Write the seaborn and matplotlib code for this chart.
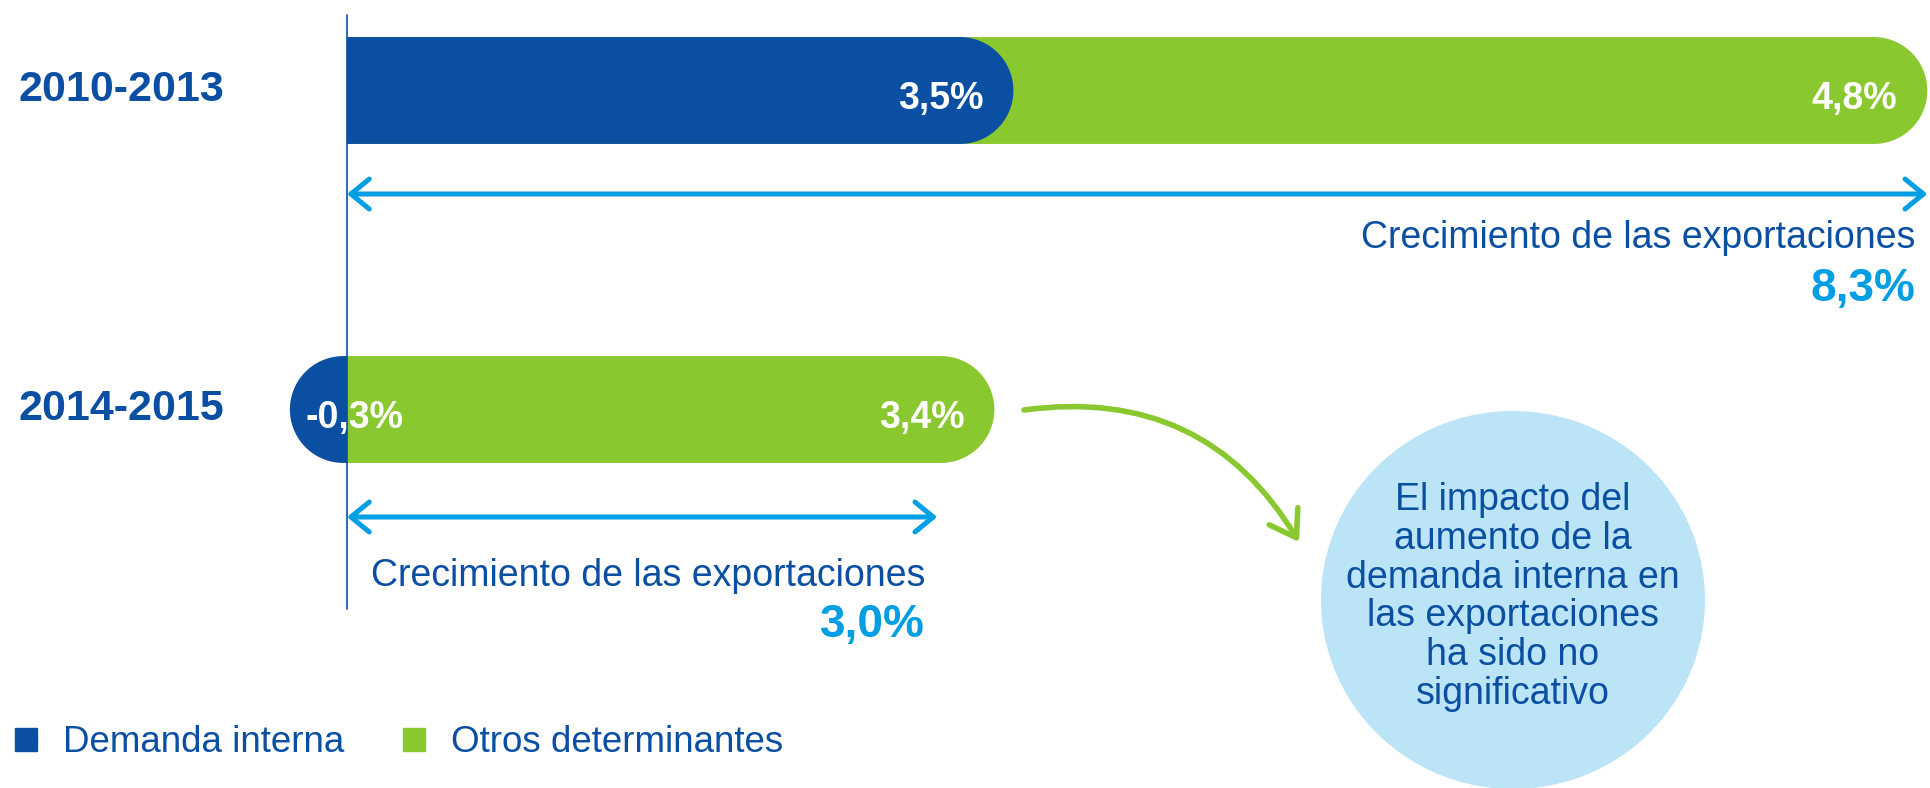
import numpy as np
import pandas as pd
import seaborn as sns
import matplotlib.pyplot as plt
from matplotlib.patches import Polygon, Ellipse, Patch
from matplotlib.transforms import blended_transform_factory

# data
periodos = ['2010-2013', '2014-2015']
demanda_interna = [3.5, -0.3]
otros_determinantes = [4.8, 3.4]
crecimiento_exportaciones = [8.3, 3.0]
etiqueta_crecimiento = 'Crecimiento de las exportaciones'
nota = ('El impacto del\naumento de la\ndemanda interna en\n'
        'las exportaciones\nha sido no\nsignificativo')

AZUL = '#0A4FA2'
VERDE = '#8AC830'
CELESTE = '#009EE2'
CELESTE_CLARO = '#BBE4F7'

sns.set_style('white')
plt.rcParams['font.family'] = ['Liberation Sans', 'DejaVu Sans']

W, H = 1930, 788
fig = plt.figure(figsize=(W / 100, H / 100), dpi=100)
ax = fig.add_axes([0, 0, 1, 1])

df = pd.DataFrame({'periodo': periodos,
                   'demanda': demanda_interna,
                   'otros': otros_determinantes})
# green bar sits under the blue one, from zero to the end of the stack
df['fin_otros'] = df['demanda'].clip(lower=0) + df['otros']

ancho = 0.335
sns.barplot(data=df, x='fin_otros', y='periodo', orient='h', color=VERDE,
            width=ancho, errorbar=None, saturation=1, ax=ax)
sns.barplot(data=df, x='demanda', y='periodo', orient='h', color=AZUL,
            width=ancho, errorbar=None, saturation=1, ax=ax)

# pixel layout: zero at x=347, 190.4 px per point, rows 319 px apart
x0_px, esc, fila_px, y0_px = 347, 190.4, 319, 90.5
ax.set_xlim(-x0_px / esc, (W - x0_px) / esc)
ax.set_ylim((H - y0_px) / fila_px, -y0_px / fila_px)
ax.axis('off')


def redondear(rect, rx):
    x, w = rect.get_x(), rect.get_width()
    y, h = rect.get_y(), rect.get_height()
    a, b = min(x, x + w), max(x, x + w)
    rx = min(rx, b - a)
    t = np.linspace(-np.pi / 2, np.pi / 2, 80)
    yc = y + h / 2
    if w >= 0:
        arco = np.column_stack([b - rx + rx * np.cos(t), yc + h / 2 * np.sin(t)])
        pts = np.vstack([[a, y], arco, [a, y + h]])
    else:
        arco = np.column_stack([a + rx - rx * np.cos(t), yc + h / 2 * np.sin(t)])
        pts = np.vstack([[b, y], arco, [b, y + h]])
    return Polygon(pts, closed=True, facecolor=rect.get_facecolor(),
                   edgecolor='none', zorder=rect.get_zorder())


rx = (ancho * fila_px / 2) / esc
for p in list(ax.patches):
    nuevo = redondear(p, rx)
    p.remove()
    ax.add_patch(nuevo)

ax.axvline(0, ymin=1 - 609 / H, ymax=1 - 15 / H, color=AZUL, lw=1.2, zorder=5)


def fmt(v):
    return f'{v:.1f}'.replace('.', ',') + '%'


mezcla = blended_transform_factory(ax.transAxes, ax.transData)
flecha_y = [194, 517]
texto_y = [238, 576]
total_y = [289, 625]
etiqueta = dict(textcoords='offset pixels', va='center', fontsize=27,
                fontweight='bold', color='white', zorder=6)

for i, periodo in enumerate(periodos):
    d, o = demanda_interna[i], otros_determinantes[i]
    ax.text(18 / W, i, periodo, transform=mezcla, ha='left', va='center',
            fontsize=31, fontweight='bold', color=AZUL)
    if d >= 0:
        ax.annotate(fmt(d), (d, i), xytext=(-30, -9), ha='right', **etiqueta)
    else:
        ax.annotate(fmt(d), (d, i), xytext=(16, -9), ha='left', **etiqueta)
    ax.annotate(fmt(o), (max(d, 0) + o, i), xytext=(-30, -9), ha='right', **etiqueta)

    fin = d + o
    ax.annotate('', xy=(fin, 1 - flecha_y[i] / H), xytext=(0, 1 - flecha_y[i] / H),
                xycoords=('data', 'axes fraction'),
                arrowprops=dict(arrowstyle='<->,head_length=0.55,head_width=0.45',
                                color=CELESTE, lw=3.6, mutation_scale=24,
                                shrinkA=0, shrinkB=0))
    ax.annotate(etiqueta_crecimiento, (fin, 1 - texto_y[i] / H),
                xycoords=('data', 'axes fraction'), xytext=(-12, 0),
                textcoords='offset pixels', ha='right', va='center',
                fontsize=27, color=AZUL)
    ax.annotate(fmt(crecimiento_exportaciones[i]), (fin, 1 - total_y[i] / H),
                xycoords=('data', 'axes fraction'), xytext=(-12, 0),
                textcoords='offset pixels', ha='right', va='center',
                fontsize=33, fontweight='bold', color=CELESTE)

# curved green arrow towards the note
ax.annotate('', xy=(1299 / W, 1 - 542 / H), xytext=(1024 / W, 1 - 410 / H),
            xycoords='axes fraction',
            arrowprops=dict(arrowstyle='->,head_length=0.6,head_width=0.4',
                            color=VERDE, lw=4, mutation_scale=30,
                            connectionstyle='arc3,rad=-0.33',
                            shrinkA=0, shrinkB=0))

ax.add_patch(Ellipse((1513 / W, 1 - 600 / H), 384 / W, 378 / H,
                     transform=ax.transAxes, facecolor=CELESTE_CLARO,
                     edgecolor='none'))
ax.text(1513 / W, 1 - 597 / H, nota, transform=ax.transAxes, ha='center',
        va='center', multialignment='center', fontsize=27, color=AZUL,
        linespacing=1.1)

handles = [Patch(color=AZUL, label='Demanda interna'),
           Patch(color=VERDE, label='Otros determinantes')]
fig.legend(handles=handles, loc='center left', bbox_to_anchor=(15 / W, 1 - 743 / H),
           ncol=2, frameon=False, fontsize=26.5, labelcolor=AZUL,
           handlelength=0.6, handleheight=0.6, handletextpad=0.7,
           columnspacing=1.6, borderpad=0, borderaxespad=0)

fig.savefig('out.png', dpi=100)
